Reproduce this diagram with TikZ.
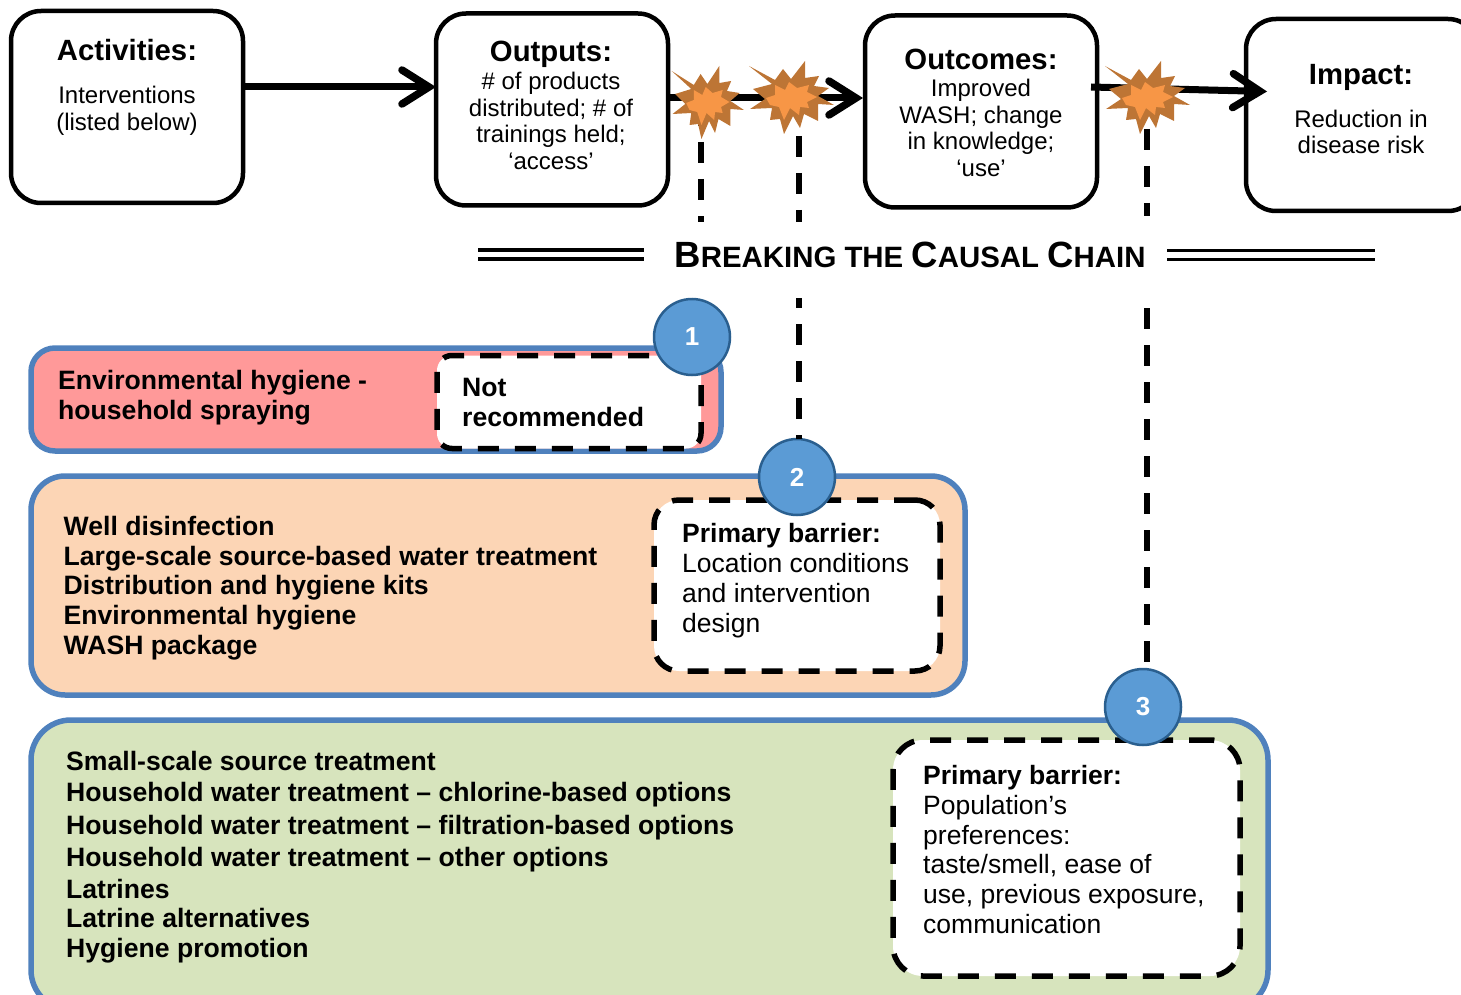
\documentclass[tikz,border=0pt]{standalone}
\usepackage{fontspec}
\setmainfont{Liberation Sans}
\usetikzlibrary{arrows.meta}
\definecolor{blueline}{HTML}{4F81BD}
\definecolor{badgefill}{HTML}{5B9BD5}
\definecolor{badgeline}{HTML}{2A5F8F}
\definecolor{pinkfill}{HTML}{FF9999}
\definecolor{peachfill}{HTML}{FCD5B5}
\definecolor{greenfill}{HTML}{D7E4BD}
\definecolor{burstedge}{HTML}{BD7535}
\definecolor{burstcore}{HTML}{F79646}
\tikzset{
	burst/.pic={
		\coordinate (-center) at (0,0);
		\path[fill=burstedge] (-38,-29) -- (-12,-15) -- (-4,-26) -- (4,-16) -- (18,-34) -- (18,-17) -- (32,-19) -- (27,-9) -- (42,-7) -- (31,1) -- (47,10) -- (31,9) -- (31,26) -- (17,19) -- (13,33) -- (6,21) -- (-3,39) -- (-7,24) -- (-17,25) -- (-15,13) -- (-37,14) -- (-22,4) -- (-34,-6) -- (-15,-11) -- cycle;
		\path[fill=burstcore] (-21,3) -- (-12,0) -- (-12,-10) -- (-2,-5) -- (2,-13) -- (10,-7) -- (22,-10) -- (20,-3) -- (30,2) -- (20,7) -- (22,13) -- (13,12) -- (12,20) -- (3,13) -- (-3,25) -- (-8,12) -- (-17,10) -- cycle;
	}
}
\begin{document}
\begin{tikzpicture}[x=1pt, y=-1pt]
		\useasboundingbox (0,0) rectangle (1461,995);
		\tikzstyle{main}=[rectangle, rounded corners=30pt, line width=4.5pt, draw=black, fill=white, inner sep=0pt, outer sep=0pt, minimum width=232pt, minimum height=192pt]
		\tikzstyle{band}=[rectangle, line width=5.5pt, draw=blueline, inner sep=0pt, outer sep=0pt]
		\tikzstyle{barrier}=[rectangle, line width=5.5pt, draw=black, dash pattern=on 21pt off 16pt, fill=white, inner sep=0pt, outer sep=0pt]
		\tikzstyle{badge}=[circle, line width=2.5pt, draw=badgeline, fill=badgefill, text=white, minimum size=76pt, inner sep=0pt, outer sep=0pt, font=\fontsize{26}{30}\selectfont\bfseries]
		\tikzstyle{title}=[inner sep=0pt, font=\fontsize{29.3}{33}\selectfont\bfseries]
		\tikzstyle{small}=[inner sep=0pt, align=center, font=\fontsize{24}{26.7}\selectfont]
		\tikzstyle{list}=[inner sep=0pt, align=left, anchor=west, font=\fontsize{26.6}{29.7}\selectfont\bfseries]
		\tikzstyle{note}=[inner sep=0pt, align=left, anchor=north west, font=\fontsize{26.5}{29.8}\selectfont]
		\tikzstyle{connect}=[line width=7pt, -{Straight Barb[length=27pt, width=34pt, line width=7.5pt, line cap=round]}]
		\tikzstyle{cut}=[line width=5.5pt, dash pattern=on 21pt off 16pt]
		\tikzstyle{rule}=[line width=3.5pt, double, double distance=5.5pt]
		% top chain
		\node[main] (activities) at (127,107) {};
		\node[main] (outputs) at (552,109.5) {};
		\node[main] (outcomes) at (981,111.5) {};
		\node[main] (impact) at (1362,115) {};
		\node[title] (t_activities) at (127,50) {Activities:};
		\node[small] (s_activities) at (127,110.5) {Interventions\\(listed below)};
		\node[title] (t_outputs) at (551,54) {Outputs:};
		\node[small] (s_outputs) at (551,121) {\# of products\\distributed; \# of\\trainings held;\\‘access’};
		\node[title] (t_outcomes) at (981,59) {Outcomes:};
		\node[small] (s_outcomes) at (981,128) {Improved\\WASH; change\\in knowledge;\\‘use’};
		\node[title] (t_impact) at (1361,77) {Impact:};
		\node[small] (s_impact) at (1361,132) {Reduction in\\disease risk};
		% bands
		\node[band, fill=pinkfill, rounded corners=24pt, minimum width=690pt, minimum height=103pt] (hygiene) at (376,399.5) {};
		\node[band, fill=peachfill, rounded corners=34pt, minimum width=934pt, minimum height=219pt] (water) at (498,585.5) {};
		\node[band, fill=greenfill, rounded corners=40pt, minimum width=1237pt, minimum height=290pt] (promotion) at (649.5,865) {};
		\node[barrier, rounded corners=15pt, minimum width=264pt, minimum height=93pt] (barrier_a) at (569,402) {};
		\node[barrier, rounded corners=25pt, minimum width=286pt, minimum height=171pt] (barrier_b) at (797,585.5) {};
		\node[barrier, rounded corners=30pt, minimum width=347pt, minimum height=236pt] (barrier_c) at (1066.5,858) {};
		\node[list] (l_hygiene) at (58,398) {Environmental hygiene -\\household spraying};
		\node[list] (l_not) at (462,402.5) {Not\\recommended};
		\node[list] (l_water) at (63.5,588) {Well disinfection\\Large-scale source-based water treatment\\Distribution and hygiene kits\\Environmental hygiene\\WASH package};
		\node[list] (l_promotion) at (66,857) {Small-scale source treatment\\[1.3pt]Household water treatment – chlorine-based options\\[3.3pt]Household water treatment – filtration-based options\\[2.3pt]Household water treatment – other options\\[2.3pt]Latrines\\[-.7pt]Latrine alternatives\\Hygiene promotion};
		\node[note] (n_b) at (682,523.5) {\textbf{Primary barrier:}\\Location conditions\\and intervention\\design};
		\node[note] (n_c) at (923,765) {\textbf{Primary barrier:}\\Population’s\\preferences:\\taste/smell, ease of\\use, previous exposure,\\communication};
		% breaking the chain
		\node[inner sep=0pt, font=\bfseries] (chain) at (910,255) {\fontsize{36.5}{40}\selectfont B\fontsize{29.4}{40}\selectfont REAKING THE \fontsize{36.5}{40}\selectfont C\fontsize{29.4}{40}\selectfont AUSAL \fontsize{36.5}{40}\selectfont C\fontsize{29.4}{40}\selectfont HAIN};
		\coordinate (rule_a) at (478,254.5);
		\coordinate (rule_b) at (644,254.5);
		\coordinate (rule_c) at (1167,255);
		\coordinate (rule_d) at (1375,255);
		\draw[rule] (rule_a) -- (rule_b);
		\draw[rule] (rule_c) -- (rule_d);
		% badges
		\node[badge] (one) at (692,337) {1};
		\node[badge] (two) at (797,477) {2};
		\node[badge] (three) at (1143,707) {3};
		% cuts
		\coordinate (top_a) at (701,105);
		\coordinate (end_a) at (701,222);
		\coordinate (top_b) at (799,99);
		\coordinate (end_b) at (799,222);
		\coordinate (low_b) at (799,298);
		\coordinate (top_c) at (1147,92);
		\coordinate (end_c) at (1147,216);
		\coordinate (low_c) at (1147,308);
		\draw[cut] (top_a) -- (end_a);
		\draw[cut] (top_b) -- (end_b);
		\draw[cut, dash phase=11pt] (low_b) -- (low_b |- two.north);
		\draw[cut] (top_c) -- (end_c);
		\draw[cut] (low_c) -- (low_c |- three.north);
		% arrows
		\coordinate (from_a) at (668,98);
		\coordinate (to_a) at (863,98);
		\coordinate (from_b) at (1091,87);
		\coordinate (to_b) at (1267,91.5);
		\path
		(activities.east |- 0,87) edge [connect] (outputs.west |- 0,87)
		(from_a) edge [connect] (to_a)
		(from_b) edge [connect] (to_b)
		;
		\pic[xscale=.85] (burst_a) at (704,100) {burst};
		\pic (burst_b) at (787,95) {burst};
		\pic (burst_c) at (1143,95) {burst};
\end{tikzpicture}
\end{document}
